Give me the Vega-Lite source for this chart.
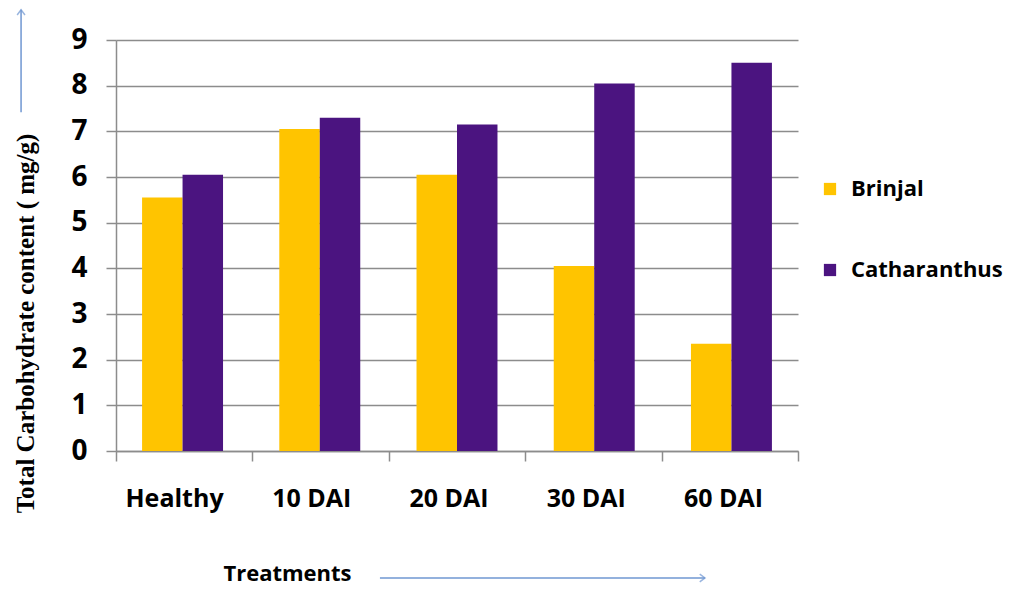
{
  "$schema": "https://vega.github.io/schema/vega-lite/v6.json",
  "width": 682,
  "height": 411,
  "autosize": {"type": "none"},
  "padding": {"left": 116, "top": 40, "right": 211, "bottom": 139},
  "background": "white",
  "config": {"view": {"stroke": null}, "font": "Open Sans"},
  "datasets": {
    "carb": [
      {"treatment": "Healthy", "plant": "Brinjal", "carbohydrate": 5.55},
      {"treatment": "Healthy", "plant": "Catharanthus", "carbohydrate": 6.05},
      {"treatment": "10 DAI", "plant": "Brinjal", "carbohydrate": 7.05},
      {"treatment": "10 DAI", "plant": "Catharanthus", "carbohydrate": 7.3},
      {"treatment": "20 DAI", "plant": "Brinjal", "carbohydrate": 6.05},
      {"treatment": "20 DAI", "plant": "Catharanthus", "carbohydrate": 7.15},
      {"treatment": "30 DAI", "plant": "Brinjal", "carbohydrate": 4.05},
      {"treatment": "30 DAI", "plant": "Catharanthus", "carbohydrate": 8.05},
      {"treatment": "60 DAI", "plant": "Brinjal", "carbohydrate": 2.35},
      {"treatment": "60 DAI", "plant": "Catharanthus", "carbohydrate": 8.5}
    ],
    "arrows": [
      {"dir": "up", "xa": -0.696, "xb": -0.696, "ya": 7.42, "yb": 9.66},
      {"dir": "right", "xa": 1.935, "xb": 4.318, "ya": -2.78, "yb": -2.78}
    ]
  },
  "layer": [
    {
      "data": {"name": "carb"},
      "mark": {"type": "bar"},
      "encoding": {
        "x": {
          "field": "treatment",
          "type": "nominal",
          "sort": ["Healthy", "10 DAI", "20 DAI", "30 DAI", "60 DAI"],
          "scale": {"paddingInner": 0.41, "paddingOuter": 0.19},
          "axis": {
            "orient": "bottom",
            "labelAngle": 0,
            "labelFont": "Open Sans",
            "labelFontSize": 25,
            "labelFontWeight": "bold",
            "labelColor": "black",
            "labelPadding": 35,
            "labelOffset": -8,
            "ticks": false,
            "domainColor": "#8c8c8c",
            "domainWidth": 1.5,
            "title": "Treatments",
            "titleFont": "Open Sans",
            "titleFontSize": 22,
            "titleFontWeight": "bold",
            "titleColor": "black",
            "titleX": 171,
            "titleY": 122,
            "titleBaseline": "middle",
            "titleAlign": "center"
          }
        },
        "xOffset": {"field": "plant", "sort": ["Brinjal", "Catharanthus"]},
        "y": {
          "field": "carbohydrate",
          "type": "quantitative",
          "scale": {"domain": [0, 9], "nice": false},
          "axis": {
            "values": [0, 1, 2, 3, 4, 5, 6, 7, 8, 9],
            "grid": true,
            "gridColor": "#8c8c8c",
            "gridWidth": 1.5,
            "domainColor": "#8c8c8c",
            "domainWidth": 1.5,
            "tickColor": "#8c8c8c",
            "tickWidth": 1.5,
            "tickSize": 10,
            "labelFont": "Open Sans",
            "labelFontSize": 28,
            "labelFontWeight": "bold",
            "labelColor": "black",
            "labelPadding": 19,
            "title": "Total Carbohydrate content ( mg/g)",
            "titleFont": "Liberation Serif",
            "titleFontSize": 25,
            "titleFontWeight": "bold",
            "titleColor": "black",
            "titleX": -91,
            "titleY": 283,
            "titleBaseline": "middle",
            "titleAlign": "center"
          }
        },
        "color": {
          "field": "plant",
          "type": "nominal",
          "scale": {"domain": ["Brinjal", "Catharanthus"], "range": ["#FFC400", "#4B1480"]},
          "legend": {
            "orient": "none",
            "legendX": 703,
            "legendY": 138,
            "title": null,
            "symbolType": "square",
            "symbolSize": 150,
            "symbolStrokeWidth": 0,
            "labelFont": "Open Sans",
            "labelFontSize": 22,
            "labelFontWeight": "bold",
            "labelColor": "black",
            "labelOffset": 10,
            "rowPadding": 59
          }
        }
      }
    },
    {
      "data": {"name": "arrows"},
      "mark": {"type": "rule", "color": "#6f97d2", "strokeWidth": 1.5},
      "encoding": {
        "x": {
          "field": "xa",
          "type": "quantitative",
          "scale": {"domain": [0, 5], "nice": false, "zero": false},
          "axis": {
            "orient": "bottom",
            "values": [0, 1, 2, 3, 4, 5],
            "labels": false,
            "domain": false,
            "grid": false,
            "ticks": true,
            "tickSize": 10,
            "tickColor": "#8c8c8c",
            "tickWidth": 1.5,
            "title": null
          }
        },
        "x2": {"field": "xb"},
        "y": {"field": "ya", "type": "quantitative"},
        "y2": {"field": "yb"}
      }
    },
    {
      "data": {"name": "arrows"},
      "mark": {"type": "point", "filled": false, "strokeWidth": 1.5, "color": "#6f97d2", "size": 170},
      "encoding": {
        "x": {
          "field": "xb",
          "type": "quantitative",
          "scale": {"domain": [0, 5], "nice": false, "zero": false},
          "axis": null
        },
        "y": {"field": "yb", "type": "quantitative"},
        "shape": {
          "field": "dir",
          "type": "nominal",
          "scale": {"domain": ["up", "right"], "range": ["M-0.6,0.8L0,0L0.6,0.8", "M-0.8,-0.6L0,0L-0.8,0.6"]},
          "legend": null
        }
      }
    }
  ],
  "resolve": {"scale": {"x": "independent", "color": "independent", "shape": "independent"}}
}
